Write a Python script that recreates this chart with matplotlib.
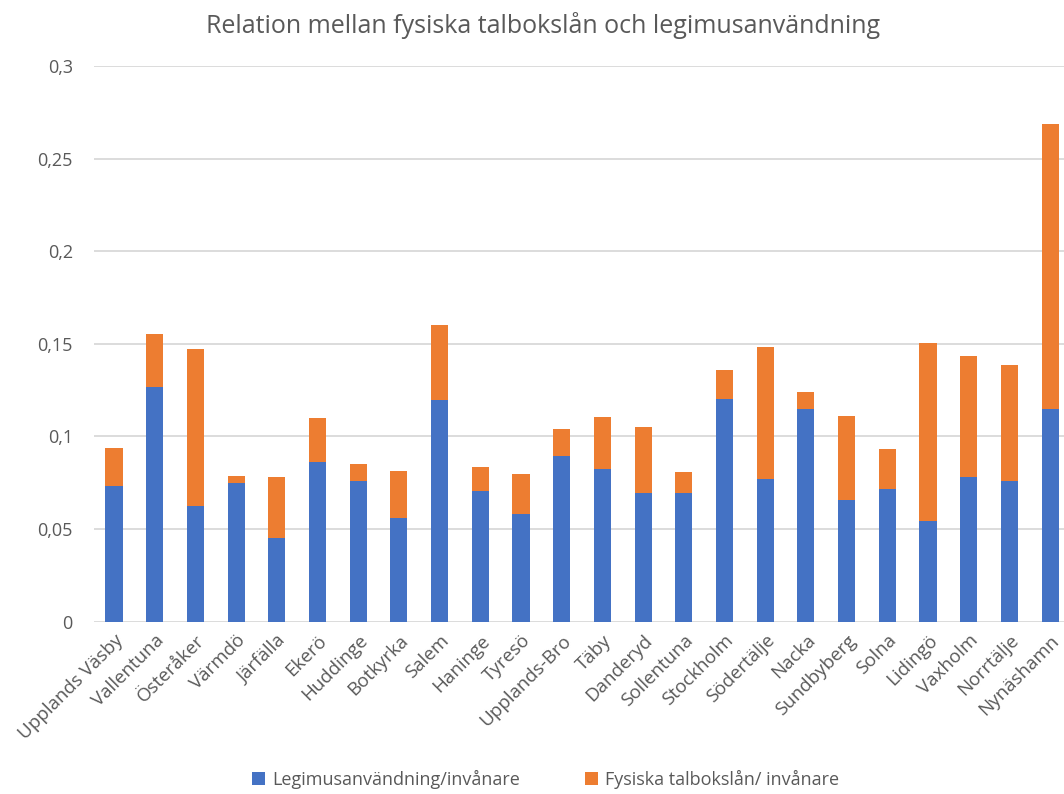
import matplotlib.pyplot as plt
import numpy as np

plt.rcParams['font.family'] = ['Open Sans', 'DejaVu Sans']

kommuner = ['Upplands Väsby', 'Vallentuna', 'Österåker', 'Värmdö', 'Järfälla', 'Ekerö',
            'Huddinge', 'Botkyrka', 'Salem', 'Haninge', 'Tyresö', 'Upplands-Bro', 'Täby',
            'Danderyd', 'Sollentuna', 'Stockholm', 'Södertälje', 'Nacka', 'Sundbyberg',
            'Solna', 'Lidingö', 'Vaxholm', 'Norrtälje', 'Nynäshamn']

# legimus per invånare (blå)
legimus = [0.073, 0.1268, 0.0625, 0.075, 0.0452, 0.086, 0.0761, 0.056, 0.1197, 0.0706,
           0.0582, 0.0892, 0.0822, 0.0695, 0.0695, 0.1201, 0.0771, 0.115, 0.0657, 0.0715,
           0.0541, 0.0781, 0.0759, 0.115]
# totalhöjd (blå + orange)
totalt = [0.0936, 0.1555, 0.1474, 0.0789, 0.0782, 0.1098, 0.0853, 0.0815, 0.160, 0.0833,
          0.0798, 0.1038, 0.1103, 0.1049, 0.0809, 0.1358, 0.1484, 0.1242, 0.1112, 0.0931,
          0.1503, 0.1432, 0.1388, 0.2685]
talbok = [round(t - l, 4) for t, l in zip(totalt, legimus)]

y_ticks = [0, 0.05, 0.1, 0.15, 0.2, 0.25, 0.3]
y_labels = ['0', '0,05', '0,1', '0,15', '0,2', '0,25', '0,3']

fig = plt.figure(figsize=(10.64, 7.94), dpi=100)
ax = fig.add_axes([93.6 / 1064, 1 - 621.7 / 794, 1 - 93.6 / 1064, (621.7 - 66) / 794])

x = np.arange(len(kommuner))
ax.bar(x, legimus, width=0.42, color='#4472C4', label='Legimusanvändning/invånare', zorder=3)
ax.bar(x, talbok, width=0.42, bottom=legimus, color='#ED7D31',
       label='Fysiska talbokslån/ invånare', zorder=3)

ax.set_xlim(-0.5, 23.34)
ax.set_ylim(0, 0.3)
ax.set_yticks(y_ticks)
ax.set_yticklabels(y_labels, fontsize=13, color='#595959')
ax.set_xticks(x)
ax.set_xticklabels(kommuner, rotation=45, ha='right', rotation_mode='anchor',
                   fontsize=13.5, color='#595959')
ax.tick_params(length=0)
ax.tick_params(axis='y', pad=15)
ax.tick_params(axis='x', pad=7)
ax.yaxis.grid(True, color='#d9d9d9', linewidth=1.3, zorder=0)
for s in ax.spines.values():
    s.set_visible(False)

fig.suptitle('Relation mellan fysiska talbokslån och legimusanvändning', x=0.51, y=0.985,
             fontsize=18, color='#595959')
fig.legend(loc='lower center', bbox_to_anchor=(0.513, -0.014), ncol=2, frameon=False,
           fontsize=13, handlelength=0.7, handleheight=0.7, columnspacing=3.6,
           handletextpad=0.4, labelcolor='#595959')

fig.savefig('out.png', dpi=100)
